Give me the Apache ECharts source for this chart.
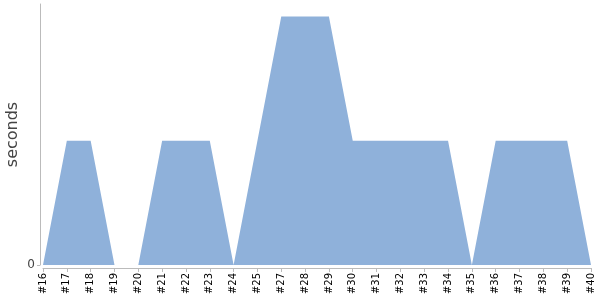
<!DOCTYPE html>
<html><head><meta charset="utf-8">
<script src="https://cdn.jsdelivr.net/npm/echarts@6/dist/echarts.min.js"></script>
<style>html,body{margin:0;padding:0;background:#fff}#c{width:600px;height:300px}</style>
</head><body><div id="c"></div>
<script>
const categories = ['#16','#17','#18','#19','#20','#21','#22','#23','#24','#25','#27','#28','#29','#30','#31','#32','#33','#34','#35','#36','#37','#38','#39','#40'];
const values = [0,1,1,0,0,1,1,1,0,1,2,2,2,1,1,1,1,1,0,1,1,1,1,0];
const yLabels = [0];
const chart = echarts.init(document.getElementById('c'), null, {renderer:'canvas'});
chart.setOption({
  animation:false,
  grid:{left:43,right:9,top:4,bottom:35,containLabel:false,outerBoundsMode:'none'},
  xAxis:{type:'category',data:categories,boundaryGap:false,offset:3,
    axisLine:{onZero:false,lineStyle:{color:'#bbb'}},
    axisTick:{show:true,length:4,lineStyle:{color:'#bbb'},alignWithLabel:true},
    axisLabel:{rotate:90,fontSize:10,color:'#000',fontFamily:'DejaVu Sans',interval:0,margin:5}},
  yAxis:{type:'value',min:0,max:2.1,offset:3,name:'seconds',nameLocation:'middle',nameGap:19,nameMoveOverlap:false,
    nameTextStyle:{fontSize:16,color:'#444',fontFamily:'DejaVu Sans'},
    splitLine:{show:false},
    axisLine:{show:true,onZero:false,lineStyle:{color:'#bbb'}},
    axisTick:{show:true,length:3,customValues:yLabels,lineStyle:{color:'#bbb'}},
    axisLabel:{customValues:yLabels,fontSize:12,color:'#444',fontFamily:'DejaVu Sans',margin:5}},
  series:[{type:'line',data:values,symbol:'none',lineStyle:{width:0},
    areaStyle:{color:'#8fb1da',opacity:1}}]
});
</script></body></html>
